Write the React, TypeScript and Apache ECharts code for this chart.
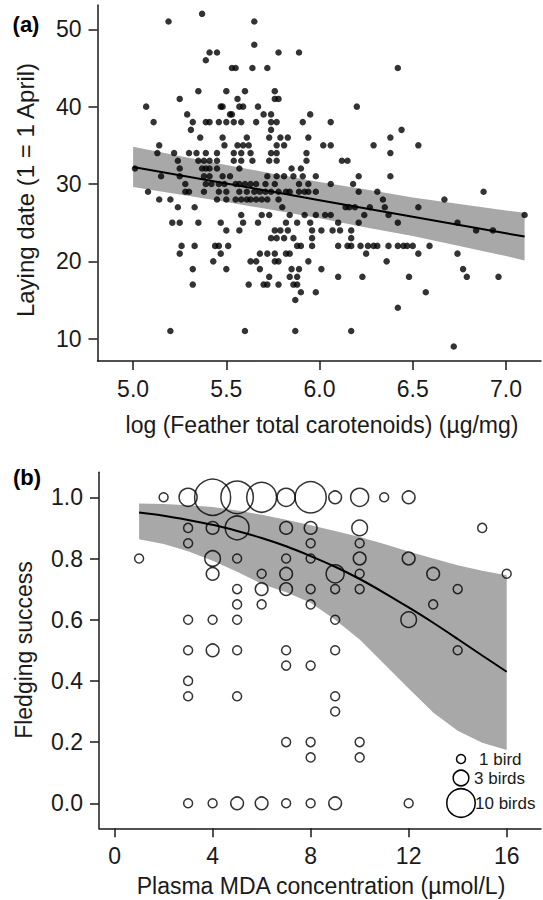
import React, { useEffect, useRef } from "react";
import * as echarts from "echarts";

const FONT = "'Liberation Sans', Arial, Helvetica, sans-serif";
const INK = "#1a1a1a";

// ---------- Panel (a): laying date vs log feather carotenoids ----------
// each row: laying date (1 = 1 April) and the log carotenoid values of the birds on that date
const layingRows: [number, number[]][] = [
  [52, [5.37]],
  [51, [5.19, 5.65]],
  [48, [5.65]],
  [47, [5.41, 5.45, 5.78, 5.89]],
  [46, [5.39]],
  [45, [5.53, 5.55, 5.64, 5.72, 6.42]],
  [42, [5.35, 5.5, 5.6, 5.76]],
  [41, [5.25, 5.56, 5.76, 5.78]],
  [40, [5.07, 5.47, 5.48, 5.57, 5.59, 5.67, 6.2]],
  [39, [5.29, 5.52, 5.53, 5.7, 5.74, 5.95]],
  [38, [5.11, 5.32, 5.39, 5.41, 5.46, 5.5, 5.54, 5.58, 5.66, 5.74, 5.77, 5.91, 6.06]],
  [37, [5.31, 5.74, 6.44]],
  [36, [5.36, 5.48, 5.61, 5.73, 5.79, 5.83, 5.94, 6.38]],
  [35, [5.14, 5.49, 5.56, 5.59, 5.62, 5.77, 5.81, 6.02, 6.06, 6.29, 6.53]],
  [34, [5.13, 5.22, 5.3, 5.34, 5.39, 5.45, 5.54, 5.58, 5.63, 5.74, 5.77, 5.93, 6.38]],
  [33, [5.24, 5.35, 5.38, 5.41, 5.45, 5.54, 5.58, 5.64, 5.73, 5.77, 5.93, 6.12, 6.15]],
  [32, [5.01, 5.25, 5.37, 5.39, 5.41, 5.45, 5.57, 5.85, 5.9]],
  [31, [5.15, 5.25, 5.38, 5.41, 5.48, 5.52, 5.72, 5.77, 5.81, 5.86, 5.91, 5.98, 6.21, 6.38]],
  [30, [5.28, 5.39, 5.42, 5.46, 5.49, 5.55, 5.57, 5.6, 5.63, 5.66, 5.71, 5.76, 5.89, 5.94, 6.06, 6.18]],
  [29, [5.08, 5.28, 5.3, 5.38, 5.46, 5.5, 5.57, 5.61, 5.65, 5.68, 5.71, 5.74, 5.78, 5.82, 5.84, 5.89, 5.92, 5.94, 5.98, 6.21, 6.31, 6.88]],
  [28, [5.14, 5.2, 5.45, 5.5, 5.55, 5.58, 5.61, 5.63, 5.66, 5.69, 5.72, 5.78, 6.34, 6.67]],
  [27, [5.24, 5.33, 5.8, 6.14, 6.16, 6.19, 6.27, 6.35, 6.53]],
  [26, [5.58, 5.69, 5.73, 5.84, 5.92, 5.98, 6.03, 6.06, 6.24, 6.37, 7.1]],
  [25, [5.21, 5.25, 5.35, 5.47, 5.59, 5.67, 5.82, 5.88, 5.95, 6.1, 6.21, 6.42, 6.74]],
  [24, [5.5, 5.57, 5.76, 5.79, 5.83, 5.96, 6.01, 6.07, 6.11, 6.17, 6.84, 6.93]],
  [23, [5.74, 5.77, 5.81, 5.86, 5.96, 6.17]],
  [22, [5.26, 5.33, 5.44, 5.46, 5.51, 5.88, 5.9, 5.96, 6.1, 6.15, 6.17, 6.22, 6.26, 6.29, 6.31, 6.37, 6.42, 6.45, 6.47, 6.5, 6.59]],
  [21, [5.25, 5.47, 5.68, 5.72, 5.76, 5.82, 5.84, 6.25, 6.53, 6.74]],
  [20, [5.43, 5.63, 5.66, 5.76, 5.78, 5.94, 6.36]],
  [19, [5.32, 5.5, 5.68, 5.85, 5.89, 6.01, 6.77]],
  [18, [5.73, 5.84, 5.88, 6.1, 6.23, 6.48, 6.79, 6.96]],
  [17, [5.32, 5.62, 5.7, 5.72, 5.78, 5.86, 5.88]],
  [16, [5.9, 5.98, 6.57]],
  [15, [5.87]],
  [14, [6.42]],
  [11, [5.2, 5.6, 5.87, 6.17]],
  [9, [6.72]],
];

const fitXA = [5.0, 5.25, 5.5, 5.75, 6.0, 6.25, 6.5, 6.75, 7.0, 7.1];
const fitYA = [32.2, 31.13, 30.06, 28.99, 27.91, 26.84, 25.77, 24.7, 23.63, 23.2];
const bandUpperA = [34.8, 33.63, 32.46, 31.34, 30.26, 29.29, 28.27, 27.4, 26.58, 26.3];
const bandLowerA = [29.6, 28.63, 27.66, 26.64, 25.56, 24.39, 23.27, 22.0, 20.68, 20.1];

const xTicksA = [5.0, 5.5, 6.0, 6.5, 7.0];
const yTicksA = [10, 20, 30, 40, 50];

// ---------- Panel (b): fledging success vs plasma MDA ----------
// [MDA concentration, fledging success, number of birds]
const birdCounts: [number, number, number][] = [
  [2, 1.0, 1], [3, 1.0, 4], [4, 1.0, 16], [5, 1.0, 13], [6, 1.0, 11], [7, 1.0, 4],
  [8, 1.0, 12], [9, 1.0, 2], [10, 1.0, 4], [11, 1.0, 1], [12, 1.0, 2],
  [3, 0.9, 1], [4, 0.9, 2], [5, 0.9, 7], [7, 0.9, 2], [8, 0.9, 2], [10, 0.9, 3], [15, 0.9, 1],
  [3, 0.85, 1], [8, 0.85, 1], [10, 0.85, 1],
  [1, 0.8, 1], [4, 0.8, 3], [5, 0.8, 1], [7, 0.8, 1], [8, 0.8, 1], [10, 0.8, 2], [12, 0.8, 2],
  [4, 0.75, 2], [6, 0.75, 1], [7, 0.75, 2], [9, 0.75, 4], [10, 0.75, 1], [13, 0.75, 2], [16, 0.75, 1],
  [5, 0.7, 1], [6, 0.7, 2], [7, 0.7, 2], [8, 0.7, 1], [9, 0.7, 1], [10, 0.7, 1], [14, 0.7, 1],
  [5, 0.65, 1], [6, 0.65, 1], [8, 0.65, 1], [13, 0.65, 1],
  [3, 0.6, 1], [4, 0.6, 1], [5, 0.6, 1], [9, 0.6, 1], [12, 0.6, 3],
  [3, 0.5, 1], [4, 0.5, 2], [5, 0.5, 1], [7, 0.5, 1], [9, 0.5, 1], [14, 0.5, 1],
  [7, 0.45, 1], [8, 0.45, 1],
  [3, 0.4, 1],
  [3, 0.35, 1], [5, 0.35, 1], [9, 0.35, 1],
  [9, 0.3, 1],
  [7, 0.2, 1], [8, 0.2, 1], [10, 0.2, 1],
  [8, 0.15, 1], [10, 0.15, 1],
  [3, 0.0, 1], [4, 0.0, 1], [5, 0.0, 2], [6, 0.0, 2], [7, 0.0, 1], [8, 0.0, 1], [9, 0.0, 2], [12, 0.0, 1],
];

const fitXB = [1, 2, 3, 4, 5, 6, 7, 8, 9, 10, 11, 12, 13, 14, 15, 16];
const fitYB = [0.95, 0.94, 0.926, 0.91, 0.89, 0.867, 0.84, 0.808, 0.773, 0.733, 0.688, 0.64, 0.59, 0.537, 0.483, 0.43];
const bandUpperB = [0.98, 0.978, 0.974, 0.968, 0.957, 0.943, 0.927, 0.909, 0.89, 0.87, 0.847, 0.823, 0.8, 0.778, 0.76, 0.745];
const bandLowerB = [0.863, 0.847, 0.824, 0.793, 0.757, 0.717, 0.69, 0.655, 0.6, 0.535, 0.455, 0.375, 0.297, 0.237, 0.198, 0.174];

const xTicksB = [0, 4, 8, 12, 16];
const yTicksB = [0, 0.2, 0.4, 0.6, 0.8, 1.0];

const legendCounts = [1, 3, 10];
const legendLabels = ["1 bird", "3 birds", "10 birds"];

const BIRD_D = 9; // diameter of a 1-bird circle
const birdSize = (n: number) => BIRD_D * Math.sqrt(n);

function axisStyle(ticks: number[], fmt: (v: number) => string) {
  return {
    axisLine: { show: true, onZero: false, lineStyle: { color: INK, width: 1.5 } },
    axisTick: { show: true, customValues: ticks, length: 9, inside: false, lineStyle: { color: INK, width: 1.5 } },
    axisLabel: {
      show: true,
      customValues: ticks,
      formatter: (v: number) => fmt(v),
      fontSize: 23,
      color: INK,
      fontFamily: FONT,
      margin: 16,
    },
    splitLine: { show: false },
  };
}

function bandSeries(xs: number[], up: number[], lo: number[], idx: number) {
  return {
    type: "custom",
    xAxisIndex: idx,
    yAxisIndex: idx,
    silent: true,
    z: 1,
    data: [0],
    renderItem: (_p: any, api: any) => {
      const pts: number[][] = xs.map((x, i) => api.coord([x, up[i]]));
      for (let i = xs.length - 1; i >= 0; i--) pts.push(api.coord([xs[i], lo[i]]));
      return { type: "polygon", shape: { points: pts }, style: { fill: "#a8a8a8" } };
    },
  };
}

export default function App() {
  const ref = useRef<HTMLDivElement>(null);

  useEffect(() => {
    if (!ref.current) return;
    const chart = echarts.init(ref.current, null, { renderer: "svg" });

    const scatterA: number[][] = [];
    layingRows.forEach(([date, xs]) => xs.forEach((x) => scatterA.push([x, date])));

    const legendGraphics: any[] = [];
    const legendY = [759, 778, 803];
    const legendTextX = [479, 474, 475];
    legendCounts.forEach((n, i) => {
      legendGraphics.push({
        type: "circle",
        shape: { cx: 461, cy: legendY[i], r: birdSize(n) / 2 },
        style: { fill: "none", stroke: "#000", lineWidth: 1.5 },
      });
      legendGraphics.push({
        type: "text",
        x: legendTextX[i],
        y: legendY[i],
        style: { text: legendLabels[i], fontSize: 17, fontFamily: FONT, fill: INK, align: "left", verticalAlign: "middle" },
      });
    });

    const option: any = {
      animation: false,
      backgroundColor: "#ffffff",
      grid: [
        { left: 97.5, top: 5, width: 443.5, height: 356 },
        { left: 99, top: 472.3, width: 442, height: 356 },
      ],
      xAxis: [
        { type: "value", gridIndex: 0, min: 4.809, max: 7.188, ...axisStyle(xTicksA, (v) => v.toFixed(1)) },
        { type: "value", gridIndex: 1, min: -0.636, max: 17.4, ...axisStyle(xTicksB, (v) => String(Math.round(v))) },
      ],
      yAxis: [
        { type: "value", gridIndex: 0, min: 7.12, max: 53.14, ...axisStyle(yTicksA, (v) => String(Math.round(v))) },
        { type: "value", gridIndex: 1, min: -0.0817, max: 1.0817, ...axisStyle(yTicksB, (v) => v.toFixed(1)) },
      ],
      series: [
        bandSeries(fitXA, bandUpperA, bandLowerA, 0),
        {
          type: "line",
          xAxisIndex: 0,
          yAxisIndex: 0,
          data: fitXA.map((x, i) => [x, fitYA[i]]),
          showSymbol: false,
          lineStyle: { color: "#000", width: 2 },
          z: 2,
          silent: true,
        },
        {
          type: "scatter",
          xAxisIndex: 0,
          yAxisIndex: 0,
          data: scatterA,
          symbolSize: 6.5,
          itemStyle: { color: "#000" },
          z: 3,
          silent: true,
        },
        bandSeries(fitXB, bandUpperB, bandLowerB, 1),
        {
          type: "line",
          xAxisIndex: 1,
          yAxisIndex: 1,
          data: fitXB.map((x, i) => [x, fitYB[i]]),
          showSymbol: false,
          smooth: 0.3,
          lineStyle: { color: "#000", width: 2 },
          z: 2,
          silent: true,
        },
        {
          type: "scatter",
          xAxisIndex: 1,
          yAxisIndex: 1,
          data: birdCounts,
          symbolSize: (val: number[]) => birdSize(val[2]),
          itemStyle: { color: "rgba(0,0,0,0)", borderColor: "#000", borderWidth: 1.5 },
          z: 3,
          silent: true,
        },
      ],
      graphic: [
        {
          type: "text",
          x: 26,
          y: 24,
          style: { text: "(a)", fontSize: 22, fontWeight: "bold", fontFamily: FONT, fill: "#000", align: "center", verticalAlign: "middle" },
        },
        {
          type: "text",
          x: 25,
          y: 190,
          rotation: Math.PI / 2,
          style: { text: "Laying date (1 = 1 April)", fontSize: 24, fontFamily: FONT, fill: INK, align: "center", verticalAlign: "middle" },
        },
        {
          type: "text",
          x: 322,
          y: 425,
          style: { text: "log (Feather total carotenoids) (\u00b5g/mg)", fontSize: 23, fontFamily: FONT, fill: INK, align: "center", verticalAlign: "middle" },
        },
        {
          type: "text",
          x: 27,
          y: 477,
          style: { text: "(b)", fontSize: 22, fontWeight: "bold", fontFamily: FONT, fill: "#000", align: "center", verticalAlign: "middle" },
        },
        {
          type: "text",
          x: 24,
          y: 650,
          rotation: Math.PI / 2,
          style: { text: "Fledging success", fontSize: 23, fontFamily: FONT, fill: INK, align: "center", verticalAlign: "middle" },
        },
        {
          type: "text",
          x: 321,
          y: 886,
          style: { text: "Plasma MDA concentration (\u00b5mol/L)", fontSize: 23, fontFamily: FONT, fill: INK, align: "center", verticalAlign: "middle" },
        },
        ...legendGraphics,
      ],
    };

    chart.setOption(option);
    return () => chart.dispose();
  }, []);

  return (
    <div
      ref={ref}
      style={{ position: "fixed", left: 0, top: 0, width: 543, height: 900, background: "#fff" }}
    />
  );
}
